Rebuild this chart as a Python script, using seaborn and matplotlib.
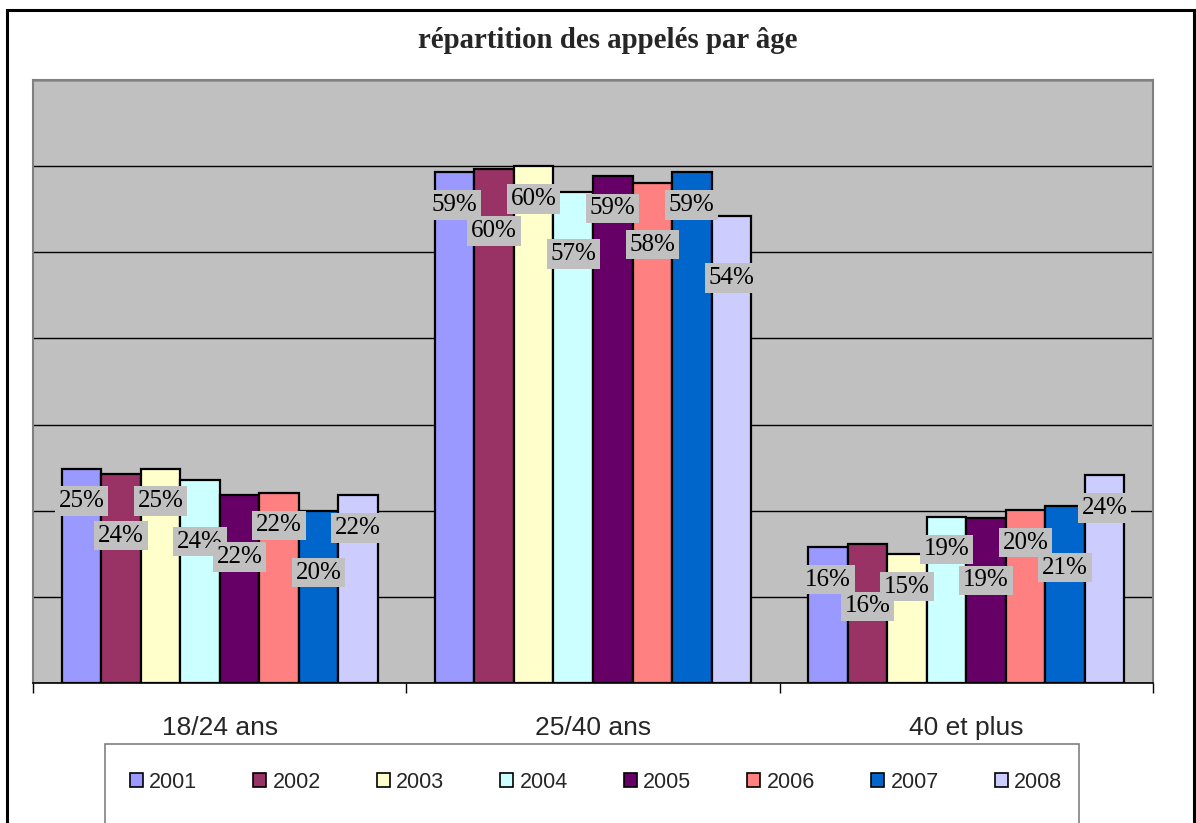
import matplotlib
matplotlib.use("Agg")
import matplotlib.pyplot as plt
import seaborn as sns
import pandas as pd
from matplotlib.patches import Rectangle, Patch

# ---- data ----
categories = ["18/24 ans", "25/40 ans", "40 et plus"]
years = ["2001", "2002", "2003", "2004", "2005", "2006", "2007", "2008"]
v2001 = [24.9, 59.3, 15.8]
v2002 = [24.3, 59.7, 16.1]
v2003 = [24.9, 60.0, 15.0]
v2004 = [23.6, 57.0, 19.3]
v2005 = [21.8, 58.9, 19.1]
v2006 = [22.1, 58.1, 20.1]
v2007 = [20.0, 59.3, 20.6]
v2008 = [21.8, 54.2, 24.1]
series = [v2001, v2002, v2003, v2004, v2005, v2006, v2007, v2008]
colors = ["#9999FF", "#993366", "#FFFFCC", "#CCFFFF", "#660066", "#FF8080", "#0066CC", "#CCCCFF"]
title = "répartition des appelés par âge"

rows = []
for y, vals in zip(years, series):
    for c, v in zip(categories, vals):
        rows.append({"age": c, "year": y, "value": v})
df = pd.DataFrame(rows)

sns.set_theme(style="white")
plt.rcParams["font.family"] = ["Liberation Sans", "DejaVu Sans"]

W, H = 1196, 823
fig = plt.figure(figsize=(W / 100, H / 100), dpi=100)
fig.patch.set_facecolor("white")

def fx(px):
    return px / W

def fy(py):
    return 1 - py / H

ax = fig.add_axes([fx(33), fy(683), fx(1153) - fx(33), fy(80) - fy(683)])
ax.set_facecolor("#C0C0C0")

sns.barplot(data=df, x="age", y="value", hue="year", order=categories, hue_order=years,
            palette=colors, width=0.847, edgecolor="black", linewidth=1.6,
            saturation=1, ax=ax, legend=False, zorder=3)

ax.set_ylim(0, 70)
ax.set_xlim(-0.5, 2.5)
ax.set_yticks(range(0, 71, 10))
ax.yaxis.grid(True, color="black", linewidth=1.0, zorder=1)
ax.set_axisbelow(True)
ax.tick_params(axis="y", left=False, labelleft=False)

ax.set_xticks([-0.5, 0.5, 1.5, 2.5])
ax.set_xticklabels([])
ax.tick_params(axis="x", which="major", direction="out", length=7, width=1, color="black", bottom=True)
ax.set_xticks([0, 1, 2], minor=True)
ax.set_xticklabels(categories, minor=True, fontsize=19, family=["Liberation Sans", "DejaVu Sans"])
ax.tick_params(axis="x", which="minor", length=0, pad=24)
ax.set_xlabel("")
ax.set_ylabel("")

for name, sp in ax.spines.items():
    sp.set_visible(True)
    sp.set_color("#808080")
    sp.set_linewidth(1.5)
ax.spines["bottom"].set_color("black")
ax.spines["bottom"].set_linewidth(1.2)

# data labels: staggered below the bar top, each one placed away from its left neighbour
drops = (3.8, 7.2)
prev_y = {}
for i, cont in enumerate(ax.containers):
    for j, bar in enumerate(cont):
        h = bar.get_height()
        xc = bar.get_x() + bar.get_width() / 2
        cands = [h - d for d in drops]
        if j in prev_y:
            ylab = max(cands, key=lambda c: abs(c - prev_y[j]))
        else:
            ylab = cands[0]
        prev_y[j] = ylab
        ax.text(xc, ylab, f"{h:.0f}%", ha="center", va="center", fontsize=18,
                family=["Liberation Serif", "DejaVu Serif"], color="black", zorder=5 + i,
                bbox=dict(boxstyle="square,pad=0.15", facecolor="#C0C0C0", edgecolor="none"))

# title
fig.text(fx(608), fy(41), title, ha="center", va="center", fontsize=20.8, fontweight="bold",
         family=["Liberation Serif", "DejaVu Serif"])

# outer border
fig.patches.append(Rectangle((fx(7), fy(860)), fx(1194) - fx(7), fy(10) - fy(860),
                             transform=fig.transFigure, fill=False, edgecolor="black",
                             linewidth=2.2, zorder=0))
# legend box
fig.patches.append(Rectangle((fx(105), fy(860)), fx(1079) - fx(105), fy(744) - fy(860),
                             transform=fig.transFigure, fill=False, edgecolor="#808080",
                             linewidth=1.2, zorder=0))

handles = [Patch(facecolor=c, edgecolor="black", linewidth=1.2) for c in colors]
fig.legend(handles, years, ncol=8, loc="center", bbox_to_anchor=(fx(596), fy(782)),
           frameon=False, fontsize=15.5, handlelength=0.6, handleheight=0.6,
           handletextpad=0.3, columnspacing=2.6, borderaxespad=0)

fig.savefig("out.png", dpi=100)
